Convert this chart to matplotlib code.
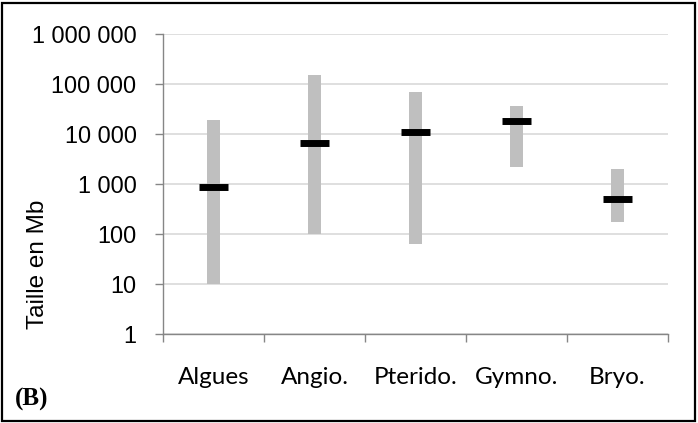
import matplotlib
matplotlib.use("Agg")
import matplotlib.pyplot as plt
from matplotlib.patches import Rectangle
from matplotlib.ticker import FixedLocator, NullLocator

# Genome size ranges (Mb) per plant group
groups = ["Algues", "Angio.", "Pterido.", "Gymno.", "Bryo."]
size_min = [10, 100, 63, 2200, 175]
size_max = [19000, 150000, 69000, 36000, 2000]
size_median = [870, 6600, 11000, 18000, 500]

y_ticks = [1, 10, 100, 1000, 10000, 100000, 1000000]
y_tick_labels = ["1", "10", "100", "1 000", "10 000", "100 000", "1 000 000"]

W, H = 698, 423
fig = plt.figure(figsize=(W / 100, H / 100), dpi=100)
ax = fig.add_axes([163 / W, (H - 334) / H, (668 - 163) / W, (334 - 34) / H])

x = list(range(len(groups)))
heights = [hi - lo for lo, hi in zip(size_min, size_max)]
ax.bar(x, heights, bottom=size_min, width=0.12, color="#bfbfbf", zorder=2)
ax.hlines(size_median, [i - 0.14 for i in x], [i + 0.14 for i in x],
          color="black", linewidth=5, zorder=3)

ax.set_yscale("log")
ax.set_ylim(1, 1000000)
ax.set_xlim(-0.5, len(groups) - 0.5)
ax.yaxis.set_major_locator(FixedLocator(y_ticks))
ax.yaxis.set_minor_locator(NullLocator())
ax.set_yticklabels(y_tick_labels, fontfamily="Liberation Sans", fontsize=16.8)
ax.grid(axis="y", color="#d9d9d9", linewidth=1.2, zorder=0)

ax.set_xticks(x)
ax.set_xticklabels(groups, fontfamily="Lato", fontsize=17.5)
ax.xaxis.set_minor_locator(FixedLocator([i - 0.5 for i in range(len(groups) + 1)]))
ax.tick_params(axis="x", which="major", length=0, pad=24)
ax.tick_params(axis="x", which="minor", length=6, color="#868686", width=1)
ax.tick_params(axis="y", which="major", length=6, color="#868686", width=1, pad=13)

for side in ("top", "right"):
    ax.spines[side].set_visible(False)
for side in ("left", "bottom"):
    ax.spines[side].set_color("#868686")
    ax.spines[side].set_linewidth(1)

fig.text(38 / W, 1 - 264 / H, "Taille en Mb", fontfamily="Liberation Sans",
         fontsize=17.5, rotation=90, va="center", ha="center")

fig.text(15 / W, 1 - 399 / H, "(B)", fontfamily="Liberation Serif",
         fontweight="bold", fontsize=18, va="center", ha="left")

fig.patches.append(Rectangle((2 / W, 2 / H), (W - 5) / W, (H - 5) / H,
                             transform=fig.transFigure, fill=False,
                             edgecolor="black", linewidth=1.6))

fig.savefig("out.png", dpi=100)
